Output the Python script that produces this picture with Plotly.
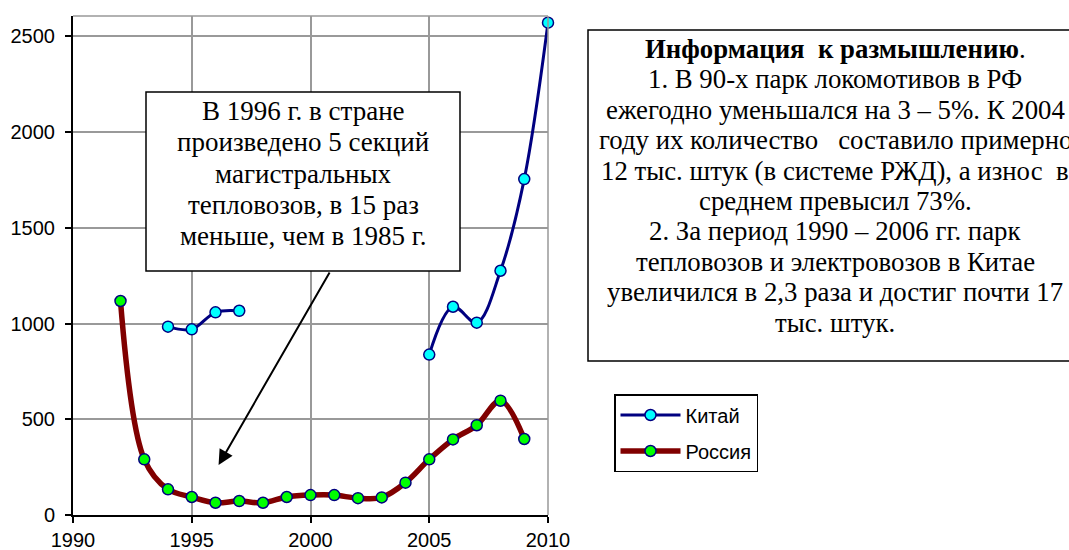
import plotly.graph_objects as go

# ---- data ----
years_russia = list(range(1992, 2010))
russia = [1118, 291, 134, 94, 64, 73, 64, 94, 104, 104, 88, 92, 169, 291, 395, 469, 597, 397]

years_china = list(range(1994, 2011))
china = [984, 970, 1059, 1067, None, None, None, None, None, None, None,
         838, 1088, 1005, 1276, 1755, 2572]

x_ticks = [1990, 1995, 2000, 2005, 2010]
y_ticks = [0, 500, 1000, 1500, 2000, 2500]

note_lines = ["В 1996 г. в стране", "произведено 5 секций", "магистральных",
              "тепловозов, в 15 раз", "меньше, чем в 1985 г."]
info_lines = ["<b>Информация  к размышлению</b>.",
              "1. В 90-х парк локомотивов в РФ",
              "ежегодно уменьшался на 3 – 5%. К 2004",
              "году их количество   составило примерно",
              "12 тыс. штук (в системе РЖД), а износ  в",
              "среднем превысил 73%.",
              "2. За период 1990 – 2006 гг. парк",
              "тепловозов и электровозов в Китае",
              "увеличился в 2,3 раза и достиг почти 17",
              "тыс. штук."]

# ---- layout geometry (window pixels) ----
W, H = 1069, 550
L, R, T, B = 73, 548, 16, 515


def px(xp):
    return (xp - L) / (R - L)


def py(yp):
    return (B - yp) / (B - T)


fig = go.Figure()
fig.add_trace(go.Scatter(
    x=years_china, y=china, name="Китай", mode="lines+markers",
    line=dict(color="#000080", width=3, shape="spline"),
    marker=dict(size=11, color="#00FFFF", line=dict(color="#000080", width=1.5)),
    connectgaps=False, cliponaxis=False, legendgroup="a"))
fig.add_trace(go.Scatter(
    x=years_russia, y=russia, name="Россия", mode="lines+markers",
    line=dict(color="#800000", width=5.5, shape="spline"),
    marker=dict(size=11, color="#00FF00", line=dict(color="#000080", width=1.5)),
    cliponaxis=False, legendgroup="b"))

shapes = [
    dict(type="line", xref="paper", yref="paper", x0=0, x1=1, y0=1, y1=1,
         line=dict(color="#999999", width=1.5)),
    dict(type="line", xref="paper", yref="paper", x0=1, x1=1, y0=0, y1=1,
         line=dict(color="#999999", width=1.5)),
    dict(type="rect", xref="paper", yref="paper", x0=px(146), x1=px(460),
         y0=py(271), y1=py(92), fillcolor="white", line=dict(color="black", width=1.5),
         layer="above"),
    dict(type="rect", xref="paper", yref="paper", x0=px(588), x1=px(1400),
         y0=py(361), y1=py(30), fillcolor="white", line=dict(color="black", width=1.5),
         layer="above"),
]

annotations = []
for i, t in enumerate(note_lines):
    annotations.append(dict(xref="paper", yref="paper", x=px(303), y=py(111 + i * 31.3),
                            text=t, showarrow=False, xanchor="center", yanchor="middle",
                            font=dict(family="Liberation Serif", size=27, color="black")))
for i, t in enumerate(info_lines):
    annotations.append(dict(xref="paper", yref="paper", x=px(835), y=py(49 + i * 30.4),
                            text=t, showarrow=False, xanchor="center", yanchor="middle",
                            font=dict(family="Liberation Serif", size=26.8, color="black")))
annotations.append(dict(x=1996.13, y=261, xref="x", yref="y", ax=2000.84, ay=1275,
                        axref="x", ayref="y", text="", showarrow=True, arrowhead=2,
                        arrowsize=1.5, arrowwidth=2, arrowcolor="black", standoff=0))

fig.update_layout(
    width=W, height=H,
    margin=dict(l=L, r=W - R, t=T, b=H - B, pad=0, autoexpand=False),
    paper_bgcolor="white", plot_bgcolor="white",
    font=dict(family="Liberation Sans", size=20, color="black"),
    showlegend=True,
    legend=dict(x=px(614), y=py(394), xanchor="left", yanchor="top",
                bordercolor="black", borderwidth=1.5, bgcolor="white",
                font=dict(family="Liberation Sans", size=20),
                itemwidth=60, tracegroupgap=7, traceorder="grouped"),
    shapes=shapes, annotations=annotations,
    xaxis=dict(range=[1990, 2010], tickvals=x_ticks, ticktext=[str(v) for v in x_ticks],
               showgrid=True, gridcolor="#999999", gridwidth=1.5,
               showline=True, linecolor="black", linewidth=2,
               ticks="outside", ticklen=6, tickwidth=1.5, tickcolor="black",
               zeroline=False, fixedrange=True, automargin=False),
    yaxis=dict(range=[0, 2607], tickvals=y_ticks, ticktext=[str(v) for v in y_ticks],
               showgrid=True, gridcolor="#999999", gridwidth=1.5,
               showline=True, linecolor="black", linewidth=2,
               ticks="outside", ticklen=6, tickwidth=1.5, tickcolor="black",
               ticklabelstandoff=6,
               zeroline=False, fixedrange=True, automargin=False),
)

fig.write_html("out.html",
               config={"displayModeBar": False},
               post_script="document.body.style.margin='0';"
                           "document.documentElement.style.overflow='hidden';"
                           "document.body.style.overflow='hidden';")
